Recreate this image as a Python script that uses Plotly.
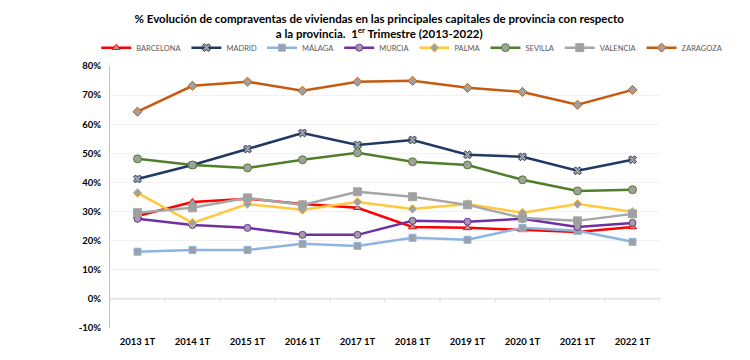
import plotly.graph_objects as go

categories = ["2013 1T", "2014 1T", "2015 1T", "2016 1T", "2017 1T",
              "2018 1T", "2019 1T", "2020 1T", "2021 1T", "2022 1T"]

barcelona = [28.5, 33.3, 34.4, 32.6, 31.3, 24.7, 24.4, 23.7, 23.0, 24.7]
madrid    = [41.2, 46.0, 51.5, 57.0, 52.9, 54.6, 49.5, 48.8, 44.0, 47.8]
malaga    = [16.2, 16.8, 16.8, 18.9, 18.2, 21.0, 20.3, 24.4, 23.4, 19.6]
murcia    = [27.5, 25.4, 24.4, 22.0, 22.0, 26.8, 26.5, 27.5, 24.7, 26.1]
palma     = [36.4, 26.1, 32.6, 30.6, 33.3, 30.9, 32.6, 29.6, 32.6, 29.9]
sevilla   = [48.1, 46.0, 45.0, 47.8, 50.2, 47.1, 46.0, 40.9, 37.1, 37.5]
valencia  = [29.6, 31.3, 34.7, 32.3, 36.8, 35.1, 32.3, 27.8, 26.8, 29.2]
zaragoza  = [64.3, 73.2, 74.6, 71.5, 74.6, 74.9, 72.5, 71.1, 66.7, 71.8]

y_ticks = [-10, 0, 10, 20, 30, 40, 50, 60, 70, 80]
y_tick_labels = [f"{v}%" for v in y_ticks]

series = [
    ("BARCELONA", barcelona, "#FF0000", "triangle-up", 7),
    ("MADRID", madrid, "#1F3864", "x", 7),
    ("MÁLAGA", malaga, "#8DB4E2", "square", 7),
    ("MURCIA", murcia, "#7030A0", "circle", 7),
    ("PALMA", palma, "#FFC83D", "diamond", 7),
    ("SEVILLA", sevilla, "#4F7F2A", "circle", 8),
    ("VALENCIA", valencia, "#A6A6A6", "square", 8),
    ("ZARAGOZA", zaragoza, "#C55A11", "diamond", 7),
]

fig = go.Figure()
for name, vals, color, sym, size in series:
    fig.add_trace(go.Scatter(
        x=categories, y=vals, name=name, mode="lines+markers",
        line=dict(color=color, width=2.5),
        marker=dict(symbol=sym, size=size, color="#A0A0A0",
                    line=dict(color=color, width=1)),
    ))

# zero line with tick marks between categories
fig.add_shape(type="line", xref="paper", yref="y", x0=0, x1=1, y0=0, y1=0,
              line=dict(color="#D9D9D9", width=1))
for k in range(11):
    fig.add_shape(type="line", xref="x", yref="y", x0=k - 0.5, x1=k - 0.5,
                  y0=0, y1=-1.2, line=dict(color="#D9D9D9", width=1))

fig.update_layout(
    width=750, height=360,
    margin=dict(l=102, r=98, t=58, b=40, autoexpand=False),
    paper_bgcolor="white", plot_bgcolor="white",
    font=dict(family="Lato", color="#000000"),
    title=dict(
        text="% Evolución de compraventas de viviendas en las principales capitales de provincia con respecto<br>a la provincia.  1<sup>er</sup> Trimestre (2013-2022)",
        x=0.495, xanchor="center", y=0.958, yanchor="top",
        font=dict(family="Lato", size=11.5, color="#000000", weight="bold"),
    ),
    legend=dict(orientation="h", x=-0.025, xanchor="left", y=1.07, yanchor="middle",
                font=dict(family="Lato", size=7.5, color="#595959"),
                itemwidth=30, tracegroupgap=0, bgcolor="rgba(0,0,0,0)"),
    showlegend=True,
)
fig.update_xaxes(type="category", range=[-0.5, 9.5], showgrid=False,
                 showline=False, ticks="", zeroline=False,
                 tickfont=dict(family="Lato", size=9.5, color="#000000", weight="bold"),
                 ticklabelstandoff=6)
fig.update_yaxes(range=[-10, 80], tickvals=y_ticks, ticktext=y_tick_labels,
                 showgrid=True, gridcolor="#F2F2F2", gridwidth=1,
                 zeroline=False, showline=True, linecolor="#B4C7E7", linewidth=1,
                 tickfont=dict(family="Lato", size=9.5, color="#000000", weight="bold"),
                 ticklabelstandoff=6)

fig.write_html("out.html")
